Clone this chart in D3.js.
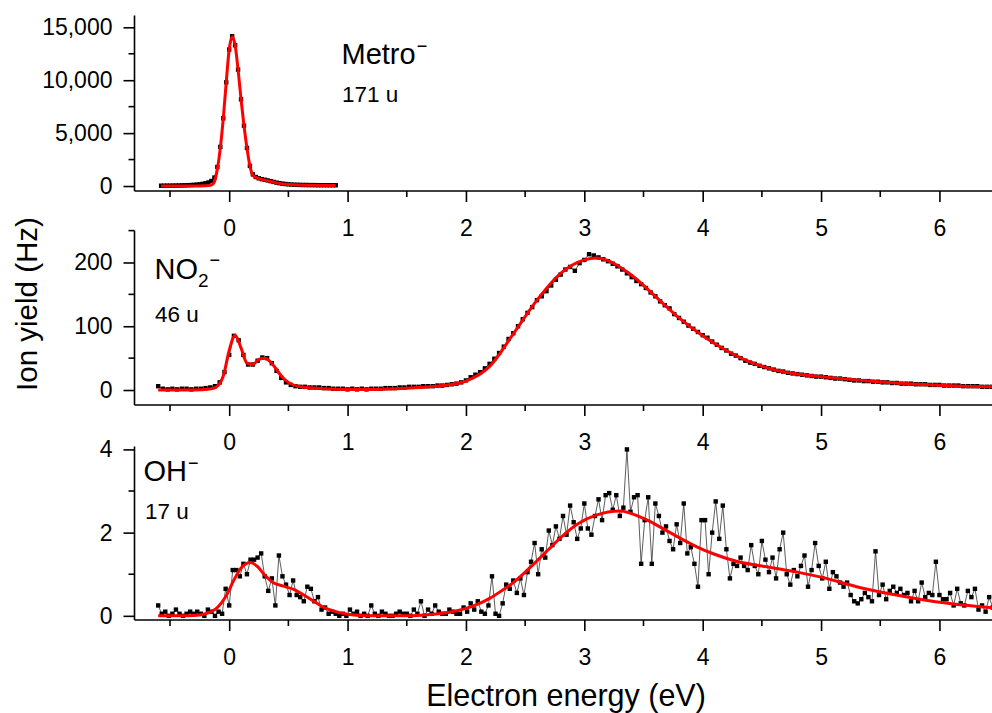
<!DOCTYPE html>
<html><head><meta charset="utf-8">
<script src="https://cdn.jsdelivr.net/npm/d3@7"></script>
<style>
body{margin:0;background:#fff}
svg text{font-family:"Liberation Sans",Arial,sans-serif;fill:#000}
</style>
</head><body><svg id="c" width="992" height="713"></svg>
<script>
// ---------- data ----------
const xTicks=[0,1,2,3,4,5,6];
const xMinorTicks=[-0.5,0.5,1.5,2.5,3.5,4.5,5.5];
const xTitle="Electron energy (eV)";
const yTitle="Ion yield (Hz)";

// Metro- (171 u)
const metroStart=-0.575, metroStep=0.025;
const metroY=[30,30,35,35,40,45,50,60,70,80,90,110,130,160,200,260,340,480,800,1800,3700,6400,9800,12900,
  14150,13300,11000,8200,5700,3600,1900,1100,850,730,650,590,530,460,390,320,270,220,190,160,140,125,115,105,
  100,95,90,88,85,82,80,78,76,75,74,73];
const metroFitX=[-0.575,-0.3,-0.2,-0.15,-0.125,-0.1,-0.075,-0.05,-0.025,0,0.025,0.05,0.075,0.1,0.125,0.15,0.175,0.2,0.25,0.3,0.4,0.5,0.6,0.7,0.9];
const metroFitY=[5,10,30,90,400,1600,3600,6400,9800,12900,14100,13300,11000,8200,5700,3600,1900,1000,700,560,300,150,90,70,60];
const metroYTicks=[0,5000,10000,15000];
const metroYMinor=[2500,7500,12500];

// NO2- (46 u)
const no2Start=-0.60, no2Step=0.04;
const no2Y=[6,2,1,2,1,2,2,1,2,2,3,4,6,12,28,55,85,78,55,40,40,46,51,50,42,30,19,12,8,6,
  5,5,4,4,4,3,3,2,2,2,1,2,1,2,1,2,2,2,3,3,3,4,4,5,5,5,6,6,6,7,
  7,8,9,10,12,15,20,24,28,34,41,49,58,68,80,89,100,111,121,130,141,147,155,164,173,181,189,193,187,199,
  204,213,211,208,205,202,198,194,189,183,177,171,166,160,153,147,139,133,128,119,113,107,101,96,91,86,82,76,71,66,
  62,57,54,50,46,43,41,38,36,34,32,30,29,27,26,25,24,23,22,21,21,20,19,18,18,17,16,15,15,14,
  14,13,13,12,12,11,11,10,10,10,9,9,9,8,8,8,7,7,7,7,6,6,6,6,5,5,5,5];
const no2FitX=[-0.6,-0.3,-0.15,-0.1,-0.05,0,0.05,0.1,0.15,0.2,0.25,0.3,0.35,0.4,0.45,0.5,0.6,0.8,1.0,1.2,1.4,1.6,1.8,2.0,2.2,2.4,2.6,2.8,3.0,3.1,3.2,3.4,3.6,3.8,4.0,4.2,4.4,4.6,4.8,5.0,5.4,5.8,6.2,6.5];
const no2FitY=[0,0,2,6,22,62,86,66,42,40,48,50,44,32,20,12,5,2,1,1,2,4,7,14,37,88,141,183,204,207,203,180,147,113,85,62,44,32,25,21,14,9,6,5];
const no2YTicks=[0,100,200];
const no2YMinor=[50,150,250];

// OH- (17 u)
const ohStart=-0.60, ohStep=0.03;
const ohY=[0.25,0.05,0.10,0.00,0.05,0.15,0.05,0.00,0.05,0.10,0.05,0.10,0.05,0.00,0.15,0.10,0.00,0.10,0.05,0.65,
  0.25,1.10,1.10,0.95,1.25,1.00,1.35,1.35,1.40,1.50,0.95,0.60,0.90,0.25,1.45,0.95,0.75,0.50,0.85,0.50,
  0.45,0.35,0.70,0.65,0.35,0.45,0.15,0.20,0.05,0.10,0.05,0.00,0.05,0.00,0.15,0.05,0.10,0.00,0.05,0.00,
  0.25,0.05,0.00,0.10,0.05,0.00,0.00,0.05,0.10,0.05,0.05,0.00,0.15,0.05,0.35,0.00,0.15,0.05,0.25,0.10,
  0.05,0.05,0.15,0.10,0.05,0.05,0.20,0.10,0.30,0.15,0.35,0.10,0.05,0.25,0.95,0.05,0.00,0.30,0.75,0.65,
  0.85,0.55,0.90,0.50,1.05,1.30,1.75,1.00,1.60,1.40,2.05,1.70,2.15,1.85,2.40,1.95,2.65,2.25,1.85,2.10,
  2.70,2.10,1.95,2.40,2.80,2.30,2.90,2.95,2.55,2.90,2.40,2.60,4.00,2.50,2.85,2.90,1.25,2.30,2.85,1.25,
  2.70,2.40,2.00,2.15,1.80,1.60,2.20,1.75,2.70,1.50,1.65,1.25,0.70,2.30,2.30,1.00,2.00,2.75,1.85,2.65,
  1.60,0.90,1.25,1.20,1.40,1.20,1.10,1.70,1.20,1.00,1.80,1.35,1.05,1.40,0.90,1.60,2.00,1.00,0.75,1.10,
  0.95,1.20,1.45,0.70,1.10,1.75,1.20,0.90,1.30,0.65,1.05,0.95,0.80,0.70,0.80,0.50,0.35,0.30,0.40,0.55,
  0.45,0.35,1.55,0.50,0.75,0.40,0.60,0.70,0.55,0.65,0.50,0.55,0.35,0.60,0.35,0.80,0.45,0.55,0.50,1.30,
  0.50,0.40,0.40,0.55,0.25,0.65,0.30,0.25,0.60,0.45,0.65,0.15,0.25,0.10,0.45,0.20,0.35];
const ohFitX=[-0.6,-0.3,-0.2,-0.1,-0.03,0.04,0.1,0.18,0.24,0.3,0.37,0.45,0.54,0.63,0.71,0.8,0.88,1.0,1.1,1.3,1.5,1.7,1.85,2.0,2.1,2.2,2.3,2.4,2.5,2.6,2.7,2.8,2.95,3.1,3.3,3.5,3.65,3.8,3.95,4.1,4.3,4.5,4.8,5.0,5.3,5.6,5.9,6.2,6.5];
const ohFitY=[0,0.01,0.05,0.2,0.46,0.86,1.15,1.28,1.18,0.98,0.8,0.72,0.64,0.5,0.36,0.2,0.12,0.04,0.01,0,0,0.03,0.08,0.18,0.28,0.42,0.6,0.8,1.05,1.32,1.6,1.88,2.22,2.42,2.52,2.34,2.12,1.88,1.66,1.48,1.3,1.2,1.05,0.93,0.7,0.52,0.37,0.26,0.18];
const ohYTicks=[0,2,4];
const ohYMinor=[1,3];

// ---------- build ----------
const grid=(start,step,vals)=>vals.map((v,i)=>({x:+(start+i*step).toFixed(4),y:v}));
const pairs=(xs,ys)=>xs.map((x,i)=>({x,y:ys[i]}));

const panels=[
  {data:grid(metroStart,metroStep,metroY),fit:pairs(metroFitX,metroFitY),yDom:[-470,16115],yRange:[191,15.5],
   ticks:metroYTicks,minor:metroYMinor,fmt:d3.format(","),name:"Metro",nameSub:"",mass:"171 u",
   nx:341.5,ny:64,mx:342,my:101.5},
  {data:grid(no2Start,no2Step,no2Y),fit:pairs(no2FitX,no2FitY),yDom:[-23.5,250],yRange:[405,230.6],
   ticks:no2YTicks,minor:no2YMinor,fmt:d3.format("d"),name:"NO",nameSub:"2",mass:"46 u",
   nx:154.5,ny:278.5,mx:155,my:321.5},
  {data:grid(ohStart,ohStep,ohY),fit:pairs(ohFitX,ohFitY),yDom:[-0.1,4.07],yRange:[620,446.5],
   ticks:ohYTicks,minor:ohYMinor,fmt:d3.format("d"),name:"OH",nameSub:"",mass:"17 u",
   nx:143.5,ny:481,mx:145,my:518.5}
];

const svg=d3.select("#c");
svg.append("rect").attr("width",992).attr("height",713).attr("fill","#fff");
const x=d3.scaleLinear().domain([-0.8,6.444]).range([134.5,992]);
const tickFont=23;

panels.forEach(p=>{
  const y=d3.scaleLinear().domain(p.yDom).range(p.yRange);
  const g=svg.append("g");
  // data line
  g.append("path").datum(p.data).attr("fill","none").attr("stroke","#333").attr("stroke-width",0.8)
    .attr("d",d3.line().x(d=>x(d.x)).y(d=>y(d.y)));
  g.selectAll("rect.pt").data(p.data).enter().append("rect").attr("class","pt")
    .attr("x",d=>x(d.x)-2.2).attr("y",d=>y(d.y)-2.2).attr("width",4.4).attr("height",4.4).attr("fill","#000");
  // fit
  g.append("path").datum(p.fit).attr("fill","none").attr("stroke","#ff0000").attr("stroke-width",3)
    .attr("stroke-linejoin","round")
    .attr("d",d3.line().curve(d3.curveMonotoneX).x(d=>x(d.x)).y(d=>y(d.y)));

  // x axis
  const y0=p.yRange[0];
  const xa=g.append("g").attr("transform",`translate(0,${y0})`)
    .call(d3.axisBottom(x).tickValues(xTicks).tickSize(11).tickPadding(18).tickFormat(d3.format("d")));
  xa.select(".domain").remove();
  xa.append("line").attr("x1",134.5).attr("x2",992).attr("stroke","#000").attr("stroke-width",1.6);
  xa.selectAll(".tick line").attr("stroke-width",1.6);
  xa.selectAll(".tick text").attr("font-size",tickFont).attr("dy","0.71em").attr("fill","#000")
    .style("font-family",'"Liberation Sans",Arial,sans-serif');
  xa.selectAll("line.mn").data(xMinorTicks).enter().append("line").attr("class","mn")
    .attr("x1",d=>x(d)).attr("x2",d=>x(d)).attr("y1",0).attr("y2",6).attr("stroke","#000").attr("stroke-width",1.6);

  // y axis
  const ya=g.append("g").attr("transform","translate(134.5,0)")
    .call(d3.axisLeft(y).tickValues(p.ticks).tickSize(11).tickPadding(11).tickFormat(p.fmt));
  ya.select(".domain").remove();
  ya.append("line").attr("y1",p.yRange[0]).attr("y2",p.yRange[1]).attr("stroke","#000").attr("stroke-width",1.6);
  ya.selectAll(".tick line").attr("stroke-width",1.6);
  ya.selectAll(".tick text").attr("font-size",tickFont).attr("fill","#000")
    .style("font-family",'"Liberation Sans",Arial,sans-serif');
  ya.selectAll("line.mn").data(p.minor).enter().append("line").attr("class","mn")
    .attr("x1",0).attr("x2",-6).attr("y1",d=>y(d)).attr("y2",d=>y(d)).attr("stroke","#000").attr("stroke-width",1.6);

  // labels
  const t=g.append("text").attr("x",p.nx).attr("y",p.ny).attr("font-size",29).text(p.name);
  if(p.nameSub){
    t.append("tspan").attr("font-size",19).attr("dy",8.3).text(p.nameSub);
    t.append("tspan").attr("font-size",18).attr("dy",-20.5).attr("dx",1).text("\u2212");
  } else {
    t.append("tspan").attr("font-size",18).attr("dy",-12).attr("dx",1).text("\u2212");
  }
  g.append("text").attr("x",p.mx).attr("y",p.my).attr("font-size",22.5).text(p.mass);
});

svg.append("text").attr("x",566).attr("y",706).attr("text-anchor","middle").attr("font-size",30.5).text(xTitle);
svg.append("text").attr("transform","translate(37,304) rotate(-90)").attr("text-anchor","middle")
  .attr("font-size",29.5).text(yTitle);
</script>
</body></html>
